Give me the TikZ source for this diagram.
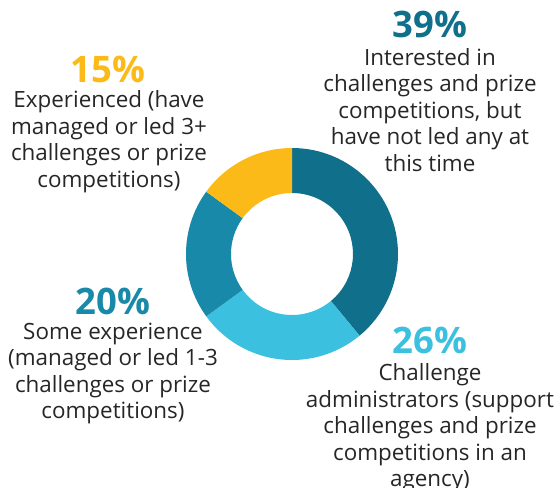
\documentclass[tikz,border=0pt]{standalone}
\usepackage{fontspec}
\setmainfont{Open Sans}
\usetikzlibrary{calc}
\definecolor{cDark}{HTML}{10708C}
\definecolor{cLight}{HTML}{3CC0E0}
\definecolor{cMid}{HTML}{1889A8}
\definecolor{cYel}{HTML}{FBBA18}
\definecolor{cTxt}{HTML}{262626}
\tikzset{
  pct/.style={anchor=base, inner sep=0pt, font=\fontsize{36.5}{40}\selectfont\bfseries},
  desc/.style={anchor=base, inner sep=0pt, align=center, text=cTxt, font=\fontsize{22.4}{26.4}\selectfont},
}
\newcommand{\ringseg}[3]{%
  \fill[#3] ($(ctr)+(#1:106)$) arc[start angle=#1, end angle=#2, radius=106]
    -- ($(ctr)+(#2:61)$) arc[start angle=#2, end angle=#1, radius=61] -- cycle;}
\begin{document}
\begin{tikzpicture}[x=1pt,y=1pt]
\useasboundingbox (0,0) rectangle (558,-488);
\coordinate (ctr) at (292,-254);
\ringseg{90}{-50.4}{cDark}
\ringseg{-50.4}{-144}{cLight}
\ringseg{-144}{-216}{cMid}
\ringseg{-216}{-270}{cYel}
% labels (desc nodes anchored at the baseline of their last line)
\node[pct, text=cDark] (p39) at (430,-37) {39\%};
\node[desc] (d39) at (430,-171) {Interested in\\challenges and prize\\competitions, but\\have not led any at\\this time};
\node[pct, text=cYel] (p15) at (108,-82) {15\%};
\node[desc] (d15) at (109,-187) {Experienced (have\\managed or led 3+\\challenges or prize\\competitions)};
\node[pct, text=cMid] (p20) at (113,-314) {20\%};
\node[desc] (d20) at (113,-418.5) {Some experience\\(managed or led 1-3\\challenges or prize\\competitions)};
\node[pct, text=cLight] (p26) at (430,-353) {26\%};
\node[desc] (d26) at (430,-486.5) {Challenge\\administrators (support\\challenges and prize\\competitions in an\\agency)};
\end{tikzpicture}
\end{document}
